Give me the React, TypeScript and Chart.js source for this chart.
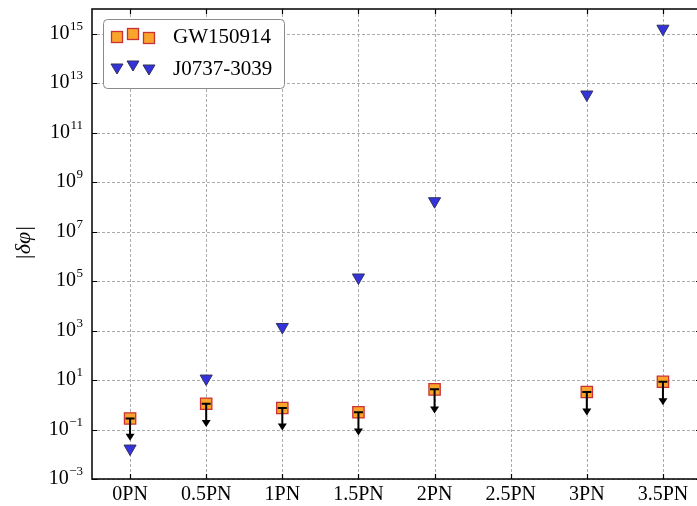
import React, { useEffect, useRef } from "react";
import { Chart, registerables } from "chart.js";

Chart.register(...registerables);

const categories = ["0PN", "0.5PN", "1PN", "1.5PN", "2PN", "2.5PN", "3PN", "3.5PN"];
const gwValues = [0.28, 1.1, 0.74, 0.5, 4.2, null, 3.3, 8.5];
const gwArrowTips = [0.035, 0.126, 0.091, 0.058, 0.44, null, 0.37, 0.95];
const psrValues = [0.017, 11.5, 1.4e3, 1.4e5, 1.7e8, null, 3.5e12, 1.6e15];
const yTickExponents = [-3, -1, 1, 3, 5, 7, 9, 11, 13, 15];
const seriesNames = ["GW150914", "J0737-3039"];

const SQ_FILL = "#F9A52C";
const SQ_EDGE = "#CC3035";
const TRI_FILL = "#3333DD";
const TRI_EDGE = "#33335A";
const SERIF = "'Liberation Serif', 'Times New Roman', serif";

function drawSquare(ctx: CanvasRenderingContext2D, x: number, y: number, s: number) {
  ctx.save();
  ctx.fillStyle = SQ_FILL;
  ctx.strokeStyle = SQ_EDGE;
  ctx.lineWidth = 1.3;
  ctx.setLineDash([]);
  ctx.fillRect(x - s / 2, y - s / 2, s, s);
  ctx.strokeRect(x - s / 2, y - s / 2, s, s);
  ctx.restore();
}

function drawTriDown(ctx: CanvasRenderingContext2D, x: number, y: number, w: number, h: number) {
  ctx.save();
  ctx.fillStyle = TRI_FILL;
  ctx.strokeStyle = TRI_EDGE;
  ctx.lineWidth = 1;
  ctx.setLineDash([]);
  ctx.beginPath();
  ctx.moveTo(x - w / 2, y - h / 2);
  ctx.lineTo(x + w / 2, y - h / 2);
  ctx.lineTo(x, y + h / 2);
  ctx.closePath();
  ctx.fill();
  ctx.stroke();
  ctx.restore();
}

const customPlugin = {
  id: "customDecor",
  beforeDatasetsDraw(chart: any) {
    const { ctx, chartArea: a, scales } = chart;
    const xs = scales.x;
    const ys = scales.y;
    ctx.save();
    ctx.strokeStyle = "#ababab";
    ctx.lineWidth = 1;
    ctx.setLineDash([3, 2]);
    categories.forEach((_, i) => {
      const x = Math.round(xs.getPixelForValue(i)) + 0.5;
      ctx.beginPath();
      ctx.moveTo(x, a.top);
      ctx.lineTo(x, a.bottom);
      ctx.stroke();
    });
    yTickExponents.forEach((e) => {
      const y = Math.round(ys.getPixelForValue(Math.pow(10, e))) + 0.5;
      ctx.beginPath();
      ctx.moveTo(a.left, y);
      ctx.lineTo(a.right, y);
      ctx.stroke();
    });
    ctx.restore();
  },
  afterDatasetsDraw(chart: any) {
    const { ctx, chartArea: a, scales } = chart;
    const xs = scales.x;
    const ys = scales.y;

    // upper-limit arrows
    ctx.save();
    ctx.strokeStyle = "#000";
    ctx.fillStyle = "#000";
    ctx.lineWidth = 2;
    ctx.setLineDash([]);
    gwValues.forEach((v, i) => {
      const tip = gwArrowTips[i];
      if (v == null || tip == null) return;
      const x = xs.getPixelForValue(i);
      const y0 = ys.getPixelForValue(v);
      const y1 = ys.getPixelForValue(tip);
      ctx.beginPath();
      ctx.moveTo(x - 4.5, y0);
      ctx.lineTo(x + 4.5, y0);
      ctx.moveTo(x, y0);
      ctx.lineTo(x, y1 - 3);
      ctx.stroke();
      ctx.beginPath();
      ctx.moveTo(x - 4.5, y1 - 7);
      ctx.lineTo(x + 4.5, y1 - 7);
      ctx.lineTo(x, y1);
      ctx.closePath();
      ctx.fill();
    });
    ctx.restore();

    // spines
    ctx.save();
    ctx.strokeStyle = "#000";
    ctx.lineWidth = 1.5;
    ctx.setLineDash([]);
    ctx.strokeRect(a.left, a.top, a.right - a.left, a.bottom - a.top);
    ctx.lineWidth = 1.2;
    const tl = 5;
    categories.forEach((_, i) => {
      const x = Math.round(xs.getPixelForValue(i)) + 0.5;
      ctx.beginPath();
      ctx.moveTo(x, a.bottom);
      ctx.lineTo(x, a.bottom - tl);
      ctx.moveTo(x, a.top);
      ctx.lineTo(x, a.top + tl);
      ctx.stroke();
    });
    yTickExponents.forEach((e) => {
      const y = Math.round(ys.getPixelForValue(Math.pow(10, e))) + 0.5;
      ctx.beginPath();
      ctx.moveTo(a.left, y);
      ctx.lineTo(a.left + tl, y);
      ctx.moveTo(a.right, y);
      ctx.lineTo(a.right - tl, y);
      ctx.stroke();
    });
    ctx.restore();

    // y tick labels
    ctx.save();
    ctx.fillStyle = "#000";
    ctx.textBaseline = "alphabetic";
    yTickExponents.forEach((e) => {
      const y = ys.getPixelForValue(Math.pow(10, e));
      const exp = e < 0 ? "\u2212" + Math.abs(e) : String(e);
      ctx.font = `13px ${SERIF}`;
      const ew = ctx.measureText(exp).width;
      const xEnd = a.left - 9;
      ctx.textAlign = "left";
      ctx.fillText(exp, xEnd - ew, y - 4);
      ctx.font = `20px ${SERIF}`;
      ctx.textAlign = "right";
      ctx.fillText("10", xEnd - ew - 0.5, y + 5);
    });
    ctx.restore();

    // y axis title
    ctx.save();
    ctx.translate(24, 243);
    ctx.rotate(-Math.PI / 2);
    ctx.font = `italic 22px ${SERIF}`;
    ctx.fillStyle = "#000";
    ctx.textAlign = "center";
    ctx.textBaseline = "middle";
    ctx.fillText("|\u03B4\u03C6|", 0, 0);
    ctx.restore();

    // legend
    ctx.save();
    const lx = 103, ly = 19, lw = 181, lh = 69;
    ctx.beginPath();
    ctx.roundRect(lx + 0.5, ly + 0.5, lw, lh, 4);
    ctx.fillStyle = "#fff";
    ctx.fill();
    ctx.strokeStyle = "#8a8a8a";
    ctx.lineWidth = 1;
    ctx.setLineDash([]);
    ctx.stroke();
    const mx = [117, 133, 149];
    const off = [1, -2, 2];
    mx.forEach((x, k) => drawSquare(ctx, x, 36 + off[k], 11));
    mx.forEach((x, k) => drawTriDown(ctx, x, 68 + off[k], 12, 10));
    ctx.fillStyle = "#000";
    ctx.font = `21px ${SERIF}`;
    ctx.textAlign = "left";
    ctx.textBaseline = "middle";
    ctx.fillText(seriesNames[0], 173, 37);
    ctx.fillText(seriesNames[1], 173, 69);
    ctx.restore();
  },
};

export default function App() {
  const ref = useRef<HTMLCanvasElement | null>(null);
  useEffect(() => {
    if (!ref.current) return;
    const chart = new Chart(ref.current, {
      type: "line",
      data: {
        labels: categories,
        datasets: [
          {
            label: seriesNames[0],
            data: gwValues as any,
            showLine: false,
            pointStyle: "rect",
            pointRadius: 8,
            pointBackgroundColor: SQ_FILL,
            pointBorderColor: SQ_EDGE,
            pointBorderWidth: 1.3,
          },
          {
            label: seriesNames[1],
            data: psrValues as any,
            showLine: false,
            pointStyle: "triangle",
            pointRotation: 180,
            pointRadius: 7,
            pointBackgroundColor: TRI_FILL,
            pointBorderColor: TRI_EDGE,
            pointBorderWidth: 1,
          },
        ],
      },
      options: {
        animation: false,
        responsive: false,
        devicePixelRatio: 1,
        layout: { autoPadding: false, padding: { left: 0, right: 1, top: 9, bottom: 0 } },
        plugins: { legend: { display: false }, tooltip: { enabled: false } },
        scales: {
          x: {
            type: "category",
            offset: true,
            grid: { display: false, drawTicks: false },
            border: { display: false },
            ticks: {
              color: "#000",
              font: { family: "Liberation Serif", size: 20 },
              padding: 4,
              maxRotation: 0,
              autoSkip: false,
            },
            afterFit: (s: any) => {
              s.height = 27;
              s.paddingLeft = 0;
              s.paddingRight = 0;
            },
          },
          y: {
            type: "logarithmic",
            min: 1e-3,
            max: 1e16,
            grid: { display: false, drawTicks: false },
            border: { display: false },
            ticks: { display: false },
            afterFit: (s: any) => {
              s.width = 92;
              s.paddingTop = 0;
              s.paddingBottom = 0;
            },
          },
        },
      } as any,
      plugins: [customPlugin],
    });
    return () => chart.destroy();
  }, []);
  return (
    <div
      style={{
        position: "absolute",
        left: 0,
        top: 0,
        width: 697,
        height: 506,
        overflow: "hidden",
        background: "#fff",
      }}
    >
      <canvas ref={ref} width={702} height={506} style={{ display: "block" }} />
    </div>
  );
}
